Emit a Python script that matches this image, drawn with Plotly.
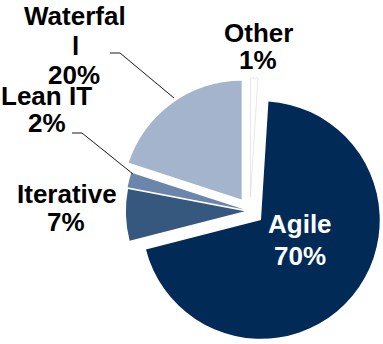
import plotly.graph_objects as go

# Share of projects by delivery methodology (percent)
categories = ["Other", "Agile", "Iterative", "Lean IT", "Waterfall"]
shares = [1, 70, 7, 2, 20]
# Names as they are wrapped on the chart
wrapped_names = ["Other", "Agile", "Iterative", "Lean IT", "Waterfal<br>l"]

slice_colors = ["#ffffff", "#022a57", "#36587e", "#6c85ab", "#a3b4cc"]
edge_colors = ["#d6d6d6", "#022a57", "#36587e", "#6c85ab", "#a3b4cc"]
edge_widths = [0.6, 0, 0, 0, 0]
label_colors = ["#000000", "#ffffff", "#000000", "#000000", "#000000"]
slice_pull = [0.12, 0.12, 0.045, 0.05, 0.12]

W, H = 383, 344

# Centre (in px) of each text line: [name lines..., value line]
label_pos = {
    "Other": [(258, 33), (258, 60)],
    "Agile": [(300, 224), (300, 256)],
    "Iterative": [(67, 194), (66, 222)],
    "Lean IT": [(46, 96), (47, 123)],
    "Waterfall": [(75, 16), (75, 46), (74, 75)],
}

# Leader lines (px): elbow path from label to slice
leaders = {
    "Waterfall": [(110, 53), (120, 53), (174, 98)],
    "Lean IT": [(72, 133), (82, 133), (133, 174)],
}

fig = go.Figure(
    go.Pie(
        labels=categories,
        values=shares,
        sort=False,
        direction="clockwise",
        rotation=0,
        pull=slice_pull,
        textinfo="none",
        marker=dict(colors=slice_colors, line=dict(color=edge_colors, width=edge_widths)),
        showlegend=False,
        domain=dict(x=[117 / W, 1], y=[0, 266 / H]),
    )
)

annotations = []
for cat, name, val, col in zip(categories, wrapped_names, shares, label_colors):
    lines = name.split("<br>") + [f"{val}%"]
    for text, (px, py) in zip(lines, label_pos[cat]):
        annotations.append(
            dict(
                text=f"<b>{text}</b>",
                x=px / W,
                y=1 - py / H,
                xref="paper",
                yref="paper",
                xanchor="center",
                yanchor="middle",
                showarrow=False,
                font=dict(family="Arial, Liberation Sans", size=26, color=col),
            )
        )

shapes = []
for cat, pts in leaders.items():
    for (x0, y0), (x1, y1) in zip(pts[:-1], pts[1:]):
        shapes.append(
            dict(
                type="line",
                xref="paper",
                yref="paper",
                x0=x0 / W,
                y0=1 - y0 / H,
                x1=x1 / W,
                y1=1 - y1 / H,
                line=dict(color="#1a1a1a", width=1),
            )
        )

fig.update_layout(
    width=W,
    height=H,
    margin=dict(l=0, r=0, t=0, b=0),
    paper_bgcolor="white",
    plot_bgcolor="white",
    annotations=annotations,
    shapes=shapes,
)

fig.write_html("out.html")
